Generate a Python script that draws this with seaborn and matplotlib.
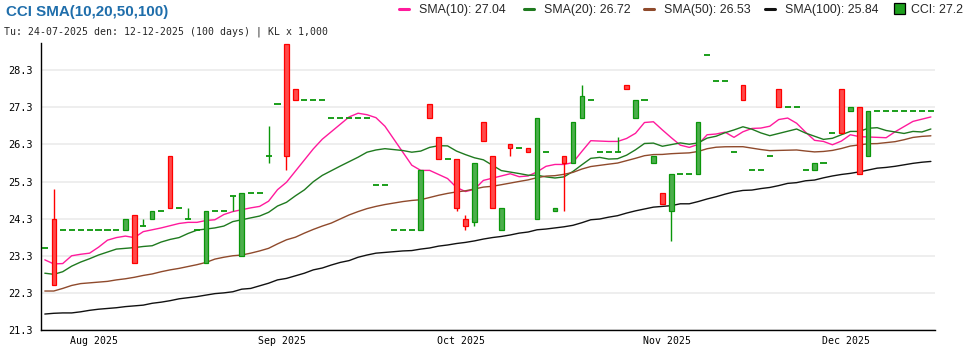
import numpy as np
import pandas as pd
import matplotlib
matplotlib.use("Agg")
import matplotlib.pyplot as plt
from matplotlib.lines import Line2D
from matplotlib.patches import Rectangle
import seaborn as sns

# ---- trading sessions (exchange closed 1-2 Sep for National Day) ----
holidays = ["2025-09-01", "2025-09-02"]
sessions = pd.bdate_range("2025-07-24", "2025-12-12")
sessions = sessions[~sessions.isin(pd.to_datetime(holidays))]

# ---- daily OHLC, thousand VND ----
open_ = [23.5, 24.3, 24.0, 24.0, 24.0, 24.0, 24.0, 24.0, 24.0, 24.0,
         24.4, 24.1, 24.3, 24.5, 26.0, 24.6, 24.3, 24.0, 23.1, 24.5,
         24.5, 24.9, 23.3, 25.0, 25.0, 26.0, 27.4, 29.0, 27.8, 27.5,
         27.5, 27.5, 27.0, 27.0, 27.0, 27.0, 27.0, 25.2, 25.2, 24.0,
         24.0, 24.0, 24.0, 27.4, 26.5, 25.9, 25.9, 24.3, 24.2, 26.9,
         26.0, 24.0, 26.3, 26.2, 26.2, 24.3, 26.1, 24.5, 26.0, 25.8,
         27.0, 27.5, 26.1, 26.1, 26.1, 27.9, 27.0, 27.5, 25.8, 25.0,
         24.5, 25.5, 25.5, 25.5, 28.7, 28.0, 28.0, 26.1, 27.9, 25.6,
         25.6, 26.0, 27.8, 27.3, 27.3, 25.6, 25.6, 25.8, 26.6, 27.8,
         27.2, 27.3, 26.0, 27.2, 27.2, 27.2, 27.2, 27.2, 27.2, 27.2]
high = [23.5, 25.1, 24.0, 24.0, 24.0, 24.0, 24.0, 24.0, 24.0, 24.3,
        24.4, 24.3, 24.5, 24.5, 26.0, 24.6, 24.6, 24.0, 24.5, 24.5,
        24.5, 24.9, 25.0, 25.0, 25.0, 26.8, 27.4, 29.0, 27.8, 27.5,
        27.5, 27.5, 27.0, 27.0, 27.0, 27.0, 27.0, 25.2, 25.2, 24.0,
        24.0, 24.0, 25.6, 27.4, 26.5, 25.9, 25.9, 24.4, 25.8, 26.9,
        26.0, 24.6, 26.3, 26.2, 26.2, 27.0, 26.1, 24.6, 26.0, 26.9,
        27.9, 27.5, 26.1, 26.1, 26.5, 27.9, 27.5, 27.5, 26.0, 25.0,
        25.5, 25.5, 25.5, 26.9, 28.7, 28.0, 28.0, 26.1, 27.9, 25.6,
        25.6, 26.0, 27.8, 27.3, 27.3, 25.6, 25.8, 25.8, 26.6, 27.8,
        27.3, 27.3, 27.2, 27.2, 27.2, 27.2, 27.2, 27.2, 27.2, 27.2]
low = [23.5, 22.5, 24.0, 24.0, 24.0, 24.0, 24.0, 24.0, 24.0, 24.0,
       23.1, 24.1, 24.3, 24.5, 24.6, 24.6, 24.3, 24.0, 23.1, 24.5,
       24.5, 24.5, 23.3, 25.0, 25.0, 25.8, 27.4, 25.6, 27.5, 27.5,
       27.5, 27.5, 27.0, 27.0, 27.0, 27.0, 27.0, 25.2, 25.2, 24.0,
       24.0, 24.0, 24.0, 27.0, 25.9, 25.9, 24.5, 24.0, 24.1, 26.4,
       24.6, 24.0, 26.0, 26.2, 26.1, 24.3, 26.1, 24.5, 24.5, 25.8,
       27.0, 27.5, 26.1, 26.1, 26.1, 27.8, 27.0, 27.5, 25.8, 24.7,
       23.7, 25.5, 25.5, 25.5, 28.7, 28.0, 28.0, 26.1, 27.5, 25.6,
       25.6, 26.0, 27.3, 27.3, 27.3, 25.6, 25.6, 25.8, 26.6, 26.6,
       27.2, 25.5, 26.0, 27.2, 27.2, 27.2, 27.2, 27.2, 27.2, 27.2]
close = [23.5, 22.5, 24.0, 24.0, 24.0, 24.0, 24.0, 24.0, 24.0, 24.3,
         23.1, 24.1, 24.5, 24.5, 24.6, 24.6, 24.3, 24.0, 24.5, 24.5,
         24.5, 24.9, 25.0, 25.0, 25.0, 26.0, 27.4, 26.0, 27.5, 27.5,
         27.5, 27.5, 27.0, 27.0, 27.0, 27.0, 27.0, 25.2, 25.2, 24.0,
         24.0, 24.0, 25.6, 27.0, 25.9, 25.9, 24.6, 24.1, 25.8, 26.4,
         24.6, 24.6, 26.2, 26.2, 26.1, 27.0, 26.1, 24.6, 25.8, 26.9,
         27.6, 27.5, 26.1, 26.1, 26.1, 27.8, 27.5, 27.5, 26.0, 24.7,
         25.5, 25.5, 25.5, 26.9, 28.7, 28.0, 28.0, 26.1, 27.5, 25.6,
         25.6, 26.0, 27.3, 27.3, 27.3, 25.6, 25.8, 25.8, 26.6, 26.6,
         27.3, 25.5, 27.2, 27.2, 27.2, 27.2, 27.2, 27.2, 27.2, 27.2]

# ---- moving-average values for sessions before a full window is in view ----
sma10_warmup = [23.19, 23.08, 23.09, 23.30, 23.34, 23.37, 23.53, 23.72, 23.79]
sma20_warmup = [22.83, 22.80, 22.87, 23.02, 23.13, 23.22, 23.32, 23.40, 23.48, 23.50,
                23.52, 23.55, 23.57, 23.67, 23.74, 23.79, 23.90, 23.99, 24.02]
sma50_warmup = [22.35, 22.35, 22.42, 22.50, 22.55, 22.57, 22.59, 22.61, 22.65, 22.68,
                22.72, 22.77, 22.81, 22.87, 22.92, 22.96, 23.01, 23.06, 23.12, 23.21,
                23.26, 23.30, 23.32, 23.37, 23.43, 23.50, 23.62, 23.73, 23.80, 23.91,
                24.01, 24.10, 24.18, 24.29, 24.40, 24.49, 24.57, 24.63, 24.68, 24.72,
                24.76, 24.79, 24.81, 24.87, 24.93, 24.98, 25.02, 25.05, 25.10]
sma100_warmup = [21.73, 21.75, 21.76, 21.76, 21.79, 21.83, 21.86, 21.88, 21.90, 21.93,
                 21.95, 21.97, 22.02, 22.05, 22.09, 22.14, 22.17, 22.20, 22.24, 22.28,
                 22.30, 22.33, 22.40, 22.42, 22.49, 22.56, 22.65, 22.69, 22.76, 22.83,
                 22.92, 22.97, 23.05, 23.12, 23.17, 23.26, 23.32, 23.37, 23.39, 23.41,
                 23.43, 23.44, 23.48, 23.51, 23.56, 23.59, 23.63, 23.66, 23.70, 23.75,
                 23.79, 23.82, 23.86, 23.91, 23.94, 24.00, 24.02, 24.05, 24.08, 24.12,
                 24.19, 24.27, 24.29, 24.34, 24.38, 24.45, 24.51, 24.56, 24.61, 24.63,
                 24.65, 24.70, 24.70, 24.76, 24.83, 24.89, 24.96, 25.02, 25.06, 25.07,
                 25.11, 25.14, 25.19, 25.25, 25.27, 25.32, 25.34, 25.40, 25.45, 25.49,
                 25.52, 25.56, 25.61, 25.66, 25.68, 25.71, 25.75, 25.79, 25.82]

periods = [10, 20, 50, 100]
warmups = [sma10_warmup, sma20_warmup, sma50_warmup, sma100_warmup]
sma_colors = ["#ff1a9c", "#1f7a1f", "#8f4a2c", "#111111"]

df = pd.DataFrame({"date": sessions, "open": open_, "high": high,
                   "low": low, "close": close})
df["idx"] = np.arange(len(df))

for n, warm in zip(periods, warmups):
    vals = df["close"].rolling(n).mean().to_numpy()
    vals[: n - 1] = warm
    df[f"SMA({n})"] = vals


def fmt2(v):
    """Two decimals, halves rounded up."""
    return f"{np.floor(v * 100 + 0.5 + 1e-9) / 100:.2f}"


RED_FACE, RED_EDGE = "#ff4a4a", "#ff0000"
GREEN_FACE, GREEN_EDGE = "#4cae4c", "#0a960a"

sns.set_style("white")
plt.rcParams["font.family"] = ["Liberation Sans", "DejaVu Sans"]

W, H = 970, 350
fig = plt.figure(figsize=(W / 100, H / 100), dpi=100)
ax = fig.add_axes([40.7 / W, 20 / H, (935 - 40.7) / W, (330 - 42.7) / H])

# moving averages
long = df.melt(id_vars="idx", value_vars=[f"SMA({n})" for n in periods],
               var_name="series", value_name="value")
sns.lineplot(data=long, x="idx", y="value", hue="series",
             palette=dict(zip([f"SMA({n})" for n in periods], sma_colors)),
             linewidth=1.0, legend=False, ax=ax, zorder=2)

# candles
x = df["idx"].to_numpy()
o, h, l, c = (df[k].to_numpy() for k in ["open", "high", "low", "close"])
up = c >= o
edge = np.where(up, GREEN_EDGE, RED_EDGE)
face = np.where(up, GREEN_FACE, RED_FACE)
wick = h > l
ax.vlines(x[wick], l[wick], h[wick], colors=edge[wick], linewidth=1.0, zorder=3)
body = c != o
ax.bar(x[body], np.abs(c - o)[body], bottom=np.minimum(o, c)[body], width=0.5,
       color=face[body], edgecolor=edge[body], linewidth=0.9, zorder=4)
flat = ~body
ax.hlines(c[flat], x[flat] - 0.34, x[flat] + 0.34, colors=GREEN_EDGE,
          linewidth=1.3, zorder=4)

# axes styling
ax.set_xlim(-0.46, 99.46)
ax.set_ylim(21.3, 29.04)
major = np.round(np.arange(21.3, 28.31, 1.0), 1)
minor = np.round(np.arange(21.8, 28.81, 1.0), 1)
ax.set_yticks(major)
ax.set_yticklabels([f"{v:.1f}" for v in major])
ax.set_yticks(minor, minor=True)

month_first = df.groupby(df["date"].dt.to_period("M"))["idx"].min()
month_first = month_first[month_first > 0]
ax.set_xticks(month_first.to_numpy() - 0.45)
ax.set_xticklabels([f"{p.strftime('%b %Y')}" for p in month_first.index])

ax.set_xlabel("")
ax.set_ylabel("")
ax.yaxis.grid(True, which="major", color="#ebebeb", linewidth=1.2)
ax.xaxis.grid(False)
ax.set_axisbelow(True)
for s in ["top", "right"]:
    ax.spines[s].set_visible(False)
for s in ["left", "bottom"]:
    ax.spines[s].set_color("black")
    ax.spines[s].set_linewidth(1.0)
ax.tick_params(axis="y", which="both", direction="in", length=2.6, width=0.8,
               pad=6, labelsize=7.4, colors="black")
ax.tick_params(axis="x", which="major", direction="in", length=3.6, width=0.8,
               pad=4, labelsize=7.1, colors="black")
for t in ax.get_yticklabels() + ax.get_xticklabels():
    t.set_family("DejaVu Sans Mono")

# header
fig.text(6 / W, 1 - 16.3 / H, "CCI SMA(10,20,50,100)", fontsize=10.9,
         fontweight="bold", color="#1f6eab", va="baseline", ha="left")
fig.text(4 / W, 1 - 34.3 / H,
         f"Tu: {sessions[0]:%d-%m-%Y} den: {sessions[-1]:%d-%m-%Y} "
         f"({len(sessions)} days) | KL x 1,000",
         fontsize=7.1, family="DejaVu Sans Mono", va="baseline", ha="left")

# legend row
text_x = [419, 544, 664, 785]
base_y = 1 - 13 / H
mid_y = 1 - 8.5 / H
for n, col, tx in zip(periods, sma_colors, text_x):
    fig.add_artist(Line2D([(tx - 20) / W, (tx - 10) / W], [mid_y, mid_y],
                          color=col, linewidth=2.2, transform=fig.transFigure))
    fig.text(tx / W, base_y, f"SMA({n}): {fmt2(df[f'SMA({n})'].iloc[-1])}",
             fontsize=8.9, va="baseline", ha="left")
fig.add_artist(Rectangle((894 / W, 1 - 14 / H), 11 / W, 11 / H,
                         facecolor="#1ea01e", edgecolor="black", linewidth=0.9,
                         transform=fig.transFigure))
fig.text(911 / W, base_y, f"CCI: {df['close'].iloc[-1]:.1f}",
         fontsize=8.9, va="baseline", ha="left")

fig.savefig("out.png", dpi=100)
